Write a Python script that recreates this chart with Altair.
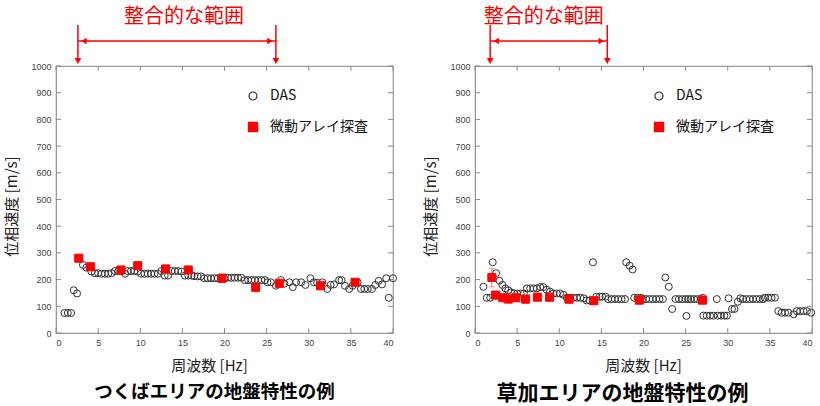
import altair as alt
import pandas as pd

JP = "Noto Sans CJK JP"
LAT = "Liberation Sans"

SERIES = ["DAS", "微動アレイ探査"]
RANGE_LABEL = "整合的な範囲"
x_ticks = [0, 5, 10, 15, 20, 25, 30, 35, 40]
y_ticks = [0, 100, 200, 300, 400, 500, 600, 700, 800, 900, 1000]

# ---- Tsukuba ----
tsukuba_das_f = [1.0, 1.4, 1.8, 2.1, 2.5, 3.2, 3.6, 4.2, 4.6, 5.0, 5.4, 5.8, 6.2, 6.6, 7.0, 7.4,
                 7.8, 8.2, 8.5, 8.9, 9.3, 9.7, 10.1, 10.5, 10.9, 11.3, 11.7, 12.1, 12.5, 12.9,
                 13.3, 13.7, 14.1, 14.5, 14.9, 15.3, 15.7, 16.1, 16.4, 16.8, 17.2, 17.6, 18.0,
                 18.4, 18.8, 19.2, 19.6, 20.0, 20.4, 20.8, 21.2, 21.6, 22.0, 22.4, 22.8, 23.2,
                 23.6, 24.0, 24.4, 24.8, 25.1, 25.5, 26.1, 26.7, 27.1, 27.7, 28.1, 28.5, 29.1,
                 29.6, 30.2, 30.6, 31.0, 31.6, 32.2, 32.6, 33.0, 33.6, 33.9, 34.3, 34.8, 35.2,
                 35.8, 36.2, 36.6, 37.0, 37.5, 37.9, 38.3, 38.7, 39.2, 39.5, 40.0]
tsukuba_das_v = [75, 75, 75, 160, 148, 255, 245, 230, 224, 224, 222, 222, 222, 224, 232, 232,
                 232, 222, 232, 232, 232, 230, 222, 222, 222, 222, 222, 222, 232, 215,
                 215, 232, 232, 232, 230, 215, 215, 215, 213, 212, 212, 205, 205,
                 205, 205, 205, 205, 205, 207, 207, 207, 207, 207, 198, 198, 198,
                 198, 198, 198, 198, 190, 190, 177, 198, 185, 190, 172, 190, 190,
                 180, 205, 190, 188, 190, 165, 180, 182, 198, 198, 177, 165, 177,
                 190, 165, 165, 165, 165, 180, 195, 182, 205, 132, 205]
tsukuba_arr_f = [2.7, 4.1, 7.7, 9.7, 13.0, 15.7, 19.7, 23.7, 26.5, 31.4, 35.5]
tsukuba_arr_v = [280, 248, 236, 252, 240, 236, 205, 171, 186, 177, 190]
tsukuba_err_f = [19.7, 23.7]
tsukuba_err_lo = [190, 159]
tsukuba_err_hi = [221, 184]
tsukuba_range = [2.6, 26.1]

# ---- Soka ----
soka_das_f = [1.0, 1.4, 1.8, 2.1, 2.5, 2.9, 3.25, 3.6, 3.95, 4.3, 4.65, 5.0, 5.4, 5.8, 6.15, 6.55,
              6.95, 7.35, 7.75, 8.1, 8.5, 8.9, 9.3, 9.7, 10.1, 10.5, 10.9, 11.3, 11.7, 12.1,
              12.5, 12.9, 13.25, 13.6, 14.0, 14.4, 14.8, 15.1, 15.5, 15.8, 16.2, 16.6, 17.0,
              17.4, 17.8, 17.95, 18.35, 18.7, 18.9, 19.3, 19.7, 19.9, 20.3, 20.7, 21.1, 21.5,
              21.9, 22.3, 22.6, 23.0, 23.4, 23.8, 24.2, 24.6, 25.0, 25.1, 25.3, 25.6, 26.0,
              26.4, 26.8, 27.05, 27.1, 27.5, 27.9, 28.3, 28.7, 28.8, 29.2, 29.6, 29.9, 30.1,
              30.5, 30.8, 31.2, 31.5, 31.8, 32.2, 32.6, 33.0, 33.4, 33.8, 34.2, 34.4, 34.8,
              35.2, 35.6, 36.0, 36.4, 36.8, 37.2, 37.8, 38.2, 38.6, 39.0, 39.4, 39.9]
soka_das_v = [173, 132, 132, 265, 224, 196, 180, 167, 160, 152, 148, 148, 148, 148, 167, 167,
              167, 167, 172, 172, 162, 155, 148, 148, 148, 143, 132, 132, 132, 132,
              132, 130, 122, 122, 265, 136, 136, 136, 136, 127, 127, 127, 127,
              127, 127, 265, 252, 238, 132, 132, 132, 127, 127, 127, 127, 127,
              127, 127, 208, 173, 90, 127, 127, 127, 127, 64, 127, 127, 127,
              127, 127, 132, 65, 65, 65, 65, 127, 65, 65, 65, 65, 130,
              90, 90, 117, 130, 127, 127, 127, 127, 127, 127, 127, 132, 132,
              132, 132, 82, 76, 76, 76, 70, 82, 82, 82, 82, 76]
soka_arr_f = [2.0, 2.45, 3.3, 3.95, 4.85, 6.0, 7.4, 8.85, 11.15, 14.1, 19.5, 27.0]
soka_arr_v = [208, 142, 132, 127, 132, 127, 134, 134, 127, 121, 123, 123]
soka_err_f = [2.0, 6.0, 11.15]
soka_err_lo = [173, 111, 111]
soka_err_hi = [242, 140, 142]
soka_range = [1.8, 15.7]

SQUARE = "M-1.15,-1.15H1.15V1.15H-1.15Z"


def panel(das_f, das_v, arr_f, arr_v, err_f, err_lo, err_hi, rng, text_dx,
          title_text, title_size, title_dx, xtitle_x, legend_x):
    xs = alt.Scale(domain=[0, 40], nice=False, zero=False)
    ys = alt.Scale(domain=[0, 1000], nice=False)
    xaxis = alt.Axis(values=x_ticks, ticks=False, grid=False, title="周波数 [Hz]", format="d",
                     titleX=xtitle_x, titleFont=JP, titleFontSize=15, titleFontWeight="normal",
                     titleColor="#222", titlePadding=11, labelFont=LAT, labelFontSize=9,
                     labelColor="#444", labelPadding=5, domainColor="#999")
    yaxis = alt.Axis(values=y_ticks, ticks=False, grid=False, title="位相速度 [m/s]", format="d",
                     titleY=140, titleFont=JP, titleFontSize=15, titleFontWeight="normal",
                     titleColor="#222", titlePadding=11, labelFont=LAT, labelFontSize=9,
                     labelColor="#444", labelPadding=5, domainColor="#999")

    def X(f):
        return alt.X(f, type="quantitative", scale=xs, axis=xaxis)

    def Y(f):
        return alt.Y(f, type="quantitative", scale=ys, axis=yaxis)

    def XD(v):
        return alt.XDatum(v, type="quantitative", scale=xs, axis=xaxis)

    def YD(v):
        return alt.YDatum(v, type="quantitative", scale=ys, axis=yaxis)

    pts = pd.DataFrame({
        "f": das_f + arr_f,
        "v": das_v + arr_v,
        "s": [SERIES[0]] * len(das_f) + [SERIES[1]] * len(arr_f),
    })
    leg = alt.Legend(title=None, orient="none", legendX=legend_x, legendY=23,
                     labelFont=JP, labelFontSize=14, labelColor="#111",
                     symbolSize=64, symbolStrokeWidth=1.2, rowPadding=17, labelOffset=10)
    points = alt.Chart(pts).mark_point(filled=True, size=49, strokeWidth=1, opacity=1).encode(
        x=X("f"), y=Y("v"),
        shape=alt.Shape("s:N", scale=alt.Scale(domain=SERIES, range=["circle", SQUARE]), legend=leg),
        fill=alt.Fill("s:N", scale=alt.Scale(domain=SERIES, range=["transparent", "#ff0000"]), legend=leg),
        stroke=alt.Stroke("s:N", scale=alt.Scale(domain=SERIES, range=["#333333", "#ff0000"]), legend=leg),
    )

    err = pd.DataFrame({"f": err_f, "lo": err_lo, "hi": err_hi})
    ebar = alt.Chart(err).mark_rule(color="#ff7070", strokeWidth=1).encode(
        x=X("f"), y=Y("lo"), y2="hi")
    cap_lo = alt.Chart(err).mark_tick(color="#ff7070", size=6, thickness=1, orient="horizontal").encode(
        x=X("f"), y=Y("lo"))
    cap_hi = alt.Chart(err).mark_tick(color="#ff7070", size=6, thickness=1, orient="horizontal").encode(
        x=X("f"), y=Y("hi"))

    # inward ticks on all four sides
    xt = pd.DataFrame({"t": x_ticks})
    yt = pd.DataFrame({"t": y_ticks})
    tick_color = "#8c8c8c"
    t_bottom = alt.Chart(xt).mark_rule(color=tick_color).encode(x=X("t"), y=YD(0), y2=alt.Y2Datum(18))
    t_top = alt.Chart(xt).mark_rule(color=tick_color).encode(x=X("t"), y=YD(1000), y2=alt.Y2Datum(982))
    t_left = alt.Chart(yt).mark_rule(color=tick_color).encode(y=Y("t"), x=XD(0), x2=alt.X2Datum(0.6))
    t_right = alt.Chart(yt).mark_rule(color=tick_color).encode(y=Y("t"), x=XD(40), x2=alt.X2Datum(39.4))

    # annotation: consistent range
    rdf = pd.DataFrame({"f": rng})
    vlines = alt.Chart(rdf).mark_rule(color="#ff0000", strokeWidth=1.5).encode(
        x=X("f"), y=alt.value(-41), y2=alt.value(-8))
    vheads = alt.Chart(rdf).mark_point(shape="triangle-down", filled=True, color="#ff0000",
                                       size=45, opacity=1).encode(x=X("f"), y=alt.value(-5))
    hdf = pd.DataFrame({"a": [rng[0]], "b": [rng[1]], "t": [RANGE_LABEL],
                        "m": [(rng[0] + rng[1]) / 2]})
    hline = alt.Chart(hdf).mark_rule(color="#ff0000", strokeWidth=1.5).encode(
        x=X("a"), x2="b", y=alt.value(-25))
    hl = alt.Chart(hdf).mark_point(shape="triangle-left", filled=True, color="#ff0000",
                                   size=40, opacity=1, xOffset=6).encode(x=X("a"), y=alt.value(-25))
    hr = alt.Chart(hdf).mark_point(shape="triangle-right", filled=True, color="#ff0000",
                                   size=40, opacity=1, xOffset=-6).encode(x=X("b"), y=alt.value(-25))
    label = alt.Chart(hdf).mark_text(color="#ff0000", font=JP, fontSize=20, dx=text_dx,
                                     baseline="middle").encode(x=X("m"), text="t:N", y=alt.value(-49))

    return alt.layer(
        t_bottom, t_top, t_left, t_right, ebar, cap_lo, cap_hi, points,
        vlines, vheads, hline, hl, hr, label,
    ).properties(
        width=337, height=267,
        title=alt.TitleParams(title_text, orient="bottom", font=JP, fontSize=title_size,
                              fontWeight="bold", color="#000", offset=10, frame="group",
                              dx=title_dx),
    )


left = panel(tsukuba_das_f, tsukuba_das_v, tsukuba_arr_f, tsukuba_arr_v,
             tsukuba_err_f, tsukuba_err_lo, tsukuba_err_hi, tsukuba_range, 7,
             "つくばエリアの地盤特性の例", 18.5, -10, 153, 190)
right = panel(soka_das_f, soka_das_v, soka_arr_f, soka_arr_v,
              soka_err_f, soka_err_lo, soka_err_hi, soka_range, -5,
              "草加エリアの地盤特性の例", 21, -21, 168, 177)

chart = alt.hconcat(left, right, spacing=23).resolve_scale(
    fill="independent", stroke="independent", shape="independent"
).properties(
    padding={"left": 4, "top": 6, "right": 2, "bottom": 2},
    background="white",
).configure_view(stroke="#9a9a9a", strokeWidth=1.2)

chart.save("out.html", embed_options={"renderer": "svg", "actions": False})
